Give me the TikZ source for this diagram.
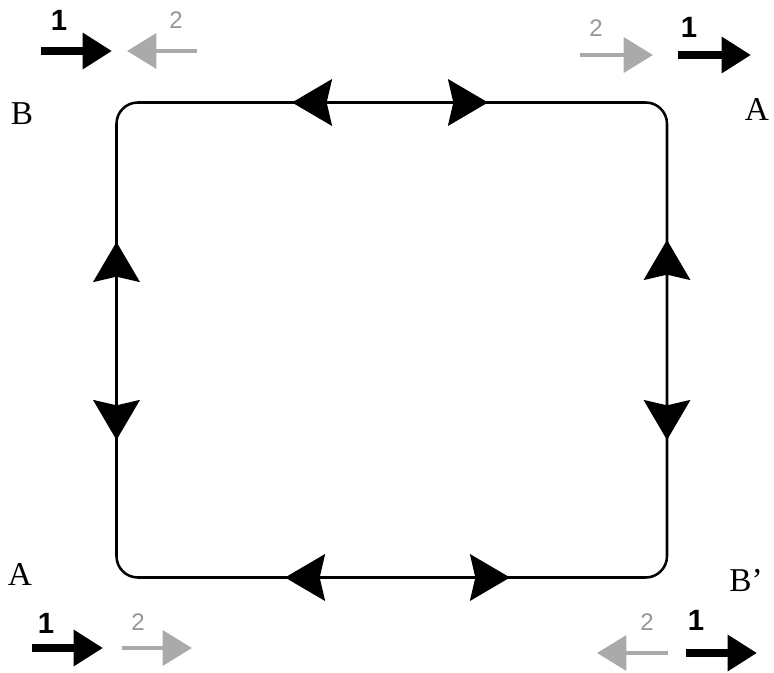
\documentclass[tikz,border=0pt]{standalone}
\usepackage{fontspec}
\setmainfont{Liberation Serif}
\newfontfamily\numfont{Liberation Sans}
\usetikzlibrary{arrows.meta}
\definecolor{grayarrow}{RGB}{170,170,170}
\definecolor{graytext}{RGB}{150,150,150}
\tikzset{
  loopline/.style={line width=1.9pt, line join=round},
  bigtip/.style={line width=1.9pt, -{Stealth[length=30pt,width=35pt,inset=4pt]}},
  blackarrow/.style={line width=5.5pt, -{Triangle[length=22pt,width=26pt]}},
  grayarr/.style={line width=3.5pt, draw=grayarrow, -{Triangle[length=22pt,width=26pt,color=grayarrow]}},
  letter/.style={font=\fontsize{25}{28}\selectfont, inner sep=0pt},
  numone/.style={font=\numfont\bfseries\fontsize{22}{24}\selectfont, inner sep=0pt},
  numtwo/.style={font=\numfont\fontsize{18}{20}\selectfont, text=graytext, inner sep=0pt}
}
\begin{document}
\begin{tikzpicture}[x=0.75pt,y=-0.75pt]
\path[use as bounding box] (0,0) rectangle (774,673);
% square loop
\coordinate (tl) at (116.5,102.5);
\coordinate (tr) at (667,102.5);
\coordinate (br) at (667,577.5);
\coordinate (bl) at (116.5,577.5);
\draw[loopline, rounded corners=16pt] (tl) -- (tr) -- (br) -- (bl) -- cycle;
% arrowheads on the loop
\coordinate (t1s) at (340,102.5); \coordinate (t1e) at (292,102.5);
\coordinate (t2s) at (440,102.5); \coordinate (t2e) at (488,102.5);
\draw[bigtip] (t1s) -- (t1e);
\draw[bigtip] (t2s) -- (t2e);
\coordinate (l1s) at (116.5,290); \coordinate (l1e) at (116.5,242);
\coordinate (l2s) at (116.5,392); \coordinate (l2e) at (116.5,440);
\draw[bigtip] (l1s) -- (l1e);
\draw[bigtip] (l2s) -- (l2e);
\coordinate (r1s) at (667,288); \coordinate (r1e) at (667,240);
\coordinate (r2s) at (667,392); \coordinate (r2e) at (667,440);
\draw[bigtip] (r1s) -- (r1e);
\draw[bigtip] (r2s) -- (r2e);
\coordinate (b1s) at (333,577.5); \coordinate (b1e) at (285,577.5);
\coordinate (b2s) at (462,577.5); \coordinate (b2e) at (510,577.5);
\draw[bigtip] (b1s) -- (b1e);
\draw[bigtip] (b2s) -- (b2e);
% corner labels
\node[letter] (lB) at (22,114) {B};
\node[letter] (lA1) at (757,110) {A};
\node[letter] (lA2) at (20,574) {A};
\node[letter] (lB2) at (746,580) {B'};
% top-left arrows
\coordinate (a1s) at (41,51); \coordinate (a1e) at (112,51);
\draw[blackarrow] (a1s) -- (a1e);
\coordinate (a2s) at (197,51); \coordinate (a2e) at (127,51);
\draw[grayarr] (a2s) -- (a2e);
\node[numone] (n1) at (59,20) {1};
\node[numtwo] (n2) at (176,20) {2};
% top-right arrows
\coordinate (a3s) at (580,55); \coordinate (a3e) at (653,55);
\draw[grayarr] (a3s) -- (a3e);
\coordinate (a4s) at (678,55); \coordinate (a4e) at (751,55);
\draw[blackarrow] (a4s) -- (a4e);
\node[numtwo] (n3) at (596,28) {2};
\node[numone] (n4) at (689,27) {1};
% bottom-left arrows
\coordinate (a5s) at (32,648); \coordinate (a5e) at (103,648);
\draw[blackarrow] (a5s) -- (a5e);
\coordinate (a6s) at (122,648); \coordinate (a6e) at (192,648);
\draw[grayarr] (a6s) -- (a6e);
\node[numone] (n5) at (46,623) {1};
\node[numtwo] (n6) at (138,622) {2};
% bottom-right arrows
\coordinate (a7s) at (668,653); \coordinate (a7e) at (597,653);
\draw[grayarr] (a7s) -- (a7e);
\coordinate (a8s) at (686,653); \coordinate (a8e) at (757,653);
\draw[blackarrow] (a8s) -- (a8e);
\node[numtwo] (n7) at (647,622) {2};
\node[numone] (n8) at (696,620) {1};
\end{tikzpicture}
\end{document}
